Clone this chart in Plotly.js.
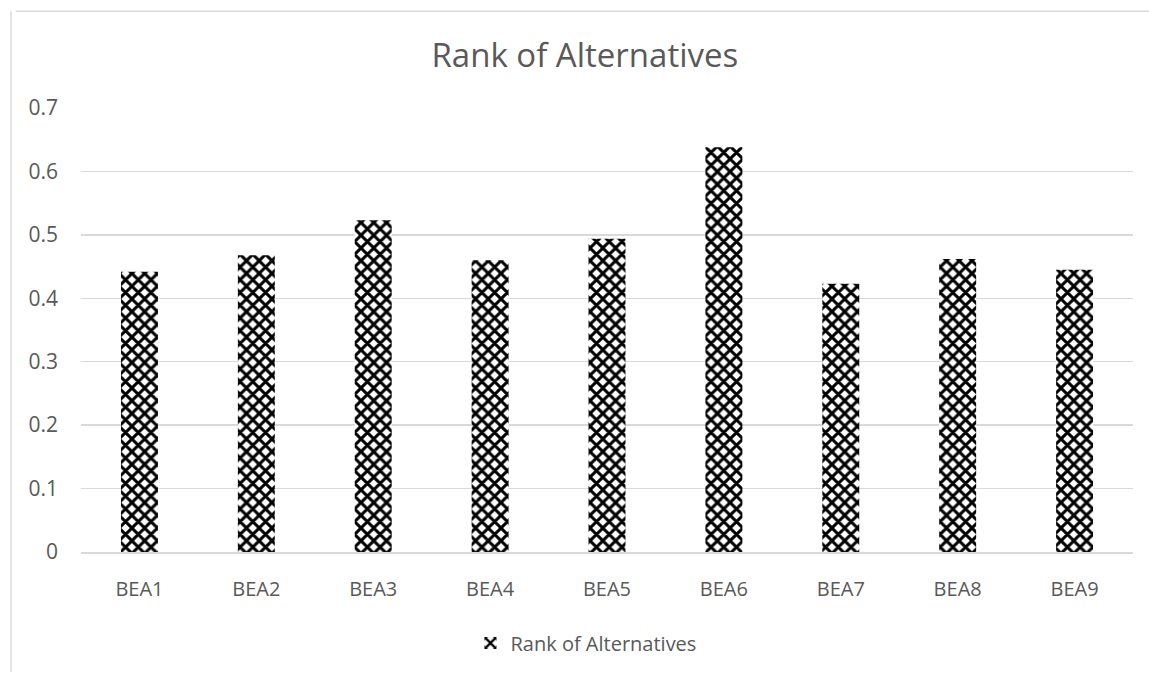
<!DOCTYPE html>
<html>
<head>
<meta charset="utf-8">
<script src="https://cdn.plot.ly/plotly-3.0.1.min.js"></script>
<style>html,body{margin:0;padding:0;background:#fff;}#chart{width:1149px;height:675px;}</style>
</head>
<body>
<div id="chart"></div>
<script>
const categories = ["BEA1","BEA2","BEA3","BEA4","BEA5","BEA6","BEA7","BEA8","BEA9"];
const rankValues = [0.442, 0.468, 0.523, 0.460, 0.494, 0.638, 0.423, 0.462, 0.445];
const seriesName = "Rank of Alternatives";
const yTicks = [0, 0.1, 0.2, 0.3, 0.4, 0.5, 0.6, 0.7];
const yTickLabels = ["0", "0.1", "0.2", "0.3", "0.4", "0.5", "0.6", "0.7"];

const grey = "#595959";
const font = "Open Sans, DejaVu Sans, sans-serif";

const trace = {
  type: "bar",
  x: categories,
  y: rankValues,
  name: seriesName,
  showlegend: true,
  width: 0.316,
  marker: {
    color: "#ffffff",
    line: {width: 0},
    pattern: {shape: "x", fgcolor: "#000000", bgcolor: "#ffffff", size: 9, solidity: 0.55, fillmode: "replace"}
  },
  hoverinfo: "x+y"
};

const layout = {
  width: 1149, height: 675,
  paper_bgcolor: "#ffffff", plot_bgcolor: "#ffffff",
  margin: {l: 81, r: 16, t: 108, b: 116, pad: 0},
  font: {family: font, color: grey, size: 20},
  title: {text: "Rank of Alternatives", font: {family: font, size: 33, color: grey}, x: 0.509, xanchor: "center", y: 0.918, yanchor: "middle"},
  xaxis: {
    type: "category",
    showgrid: false, zeroline: false,
    showline: true, linecolor: "#d9d9d9", linewidth: 1.5,
    ticks: "", tickfont: {family: font, size: 20, color: grey},
    ticklabelstandoff: 18
  },
  yaxis: {
    range: [0, 0.7], tickvals: yTicks, ticktext: yTickLabels,
    showgrid: true, gridcolor: "#d9d9d9", gridwidth: 1.5,
    zeroline: false, showline: false, ticks: "",
    tickfont: {family: font, size: 21, color: grey},
    ticklabelstandoff: 22
  },
  showlegend: true,
  legend: {orientation: "h", x: 0.48, xanchor: "center", y: -0.205, yanchor: "middle", font: {family: font, size: 20, color: grey}, itemwidth: 30},
  bargap: 0.684,
  shapes: [
    {type: "line", xref: "paper", yref: "paper", x0: -0.062, x1: 1.02, y0: 1.218, y1: 1.218, line: {color: "#d9d9d9", width: 1.5}},
    {type: "line", xref: "paper", yref: "paper", x0: -0.0665, x1: -0.0665, y0: 1.218, y1: -0.27, line: {color: "#d9d9d9", width: 1.5}}
  ]
};

Plotly.newPlot("chart", [trace], layout, {staticPlot: true, displayModeBar: false});
</script>
</body>
</html>
